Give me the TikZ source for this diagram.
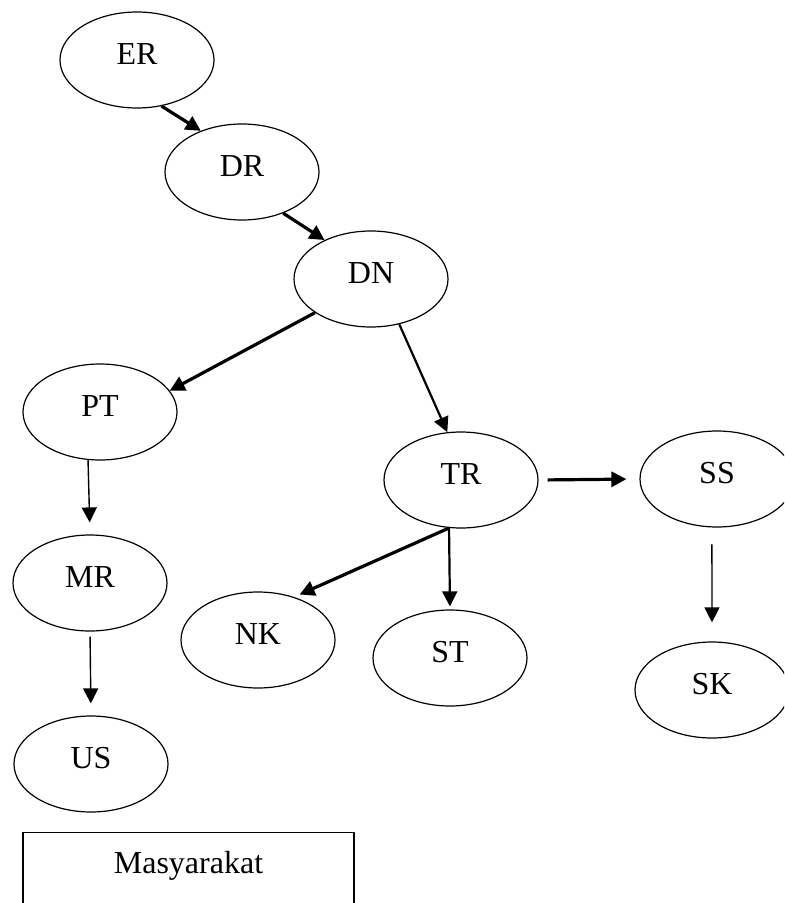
\documentclass[tikz,border=0pt]{standalone}
\usepackage{fontspec}
\setmainfont{Liberation Serif}
\usepackage{tikz}
\usetikzlibrary{arrows.meta, shapes.geometric}
\tikzset{every picture/.style={x=0.5pt,y=-0.5pt,every node/.style={ellipse,draw=black,line width=0.6pt,minimum width=77pt,minimum height=48pt,inner sep=0pt,text depth=6pt,font=\fontsize{16}{19}\selectfont}}}
\tikzset{kotak/.style={rectangle,minimum width=165.5pt,minimum height=0pt,text height=20.5pt,text depth=34.5pt,anchor=north}}

\begin{document}
\begin{tikzpicture}
    \useasboundingbox (0,0) rectangle (784,903);
    \clip (0,0) rectangle (784,903);

    \node (er) at (137, 60) {ER};
    \node (dr) at (242, 172) {DR};
    \node (dn) at (371, 279) {DN};

    \node (pt) at (100, 412) {PT};
    \node (mr) at (90, 583) {MR};
    \node (us) at (91, 764) {US};

    \node (tr) at (461, 480) {TR};
    \node (nk) at (258, 640) {NK};
    \node (st) at (450, 658) {ST};

    \node (ss) at (717, 479) {SS};
    \node (sk) at (712, 690) {SK};

    \node[kotak] (masy) at (188.5, 832) {Masyarakat};

    \foreach \from/\to/\lw/\sa/\sb in {
      er.-62/dr.135/1.6/0/0, dr.-45/dn.140/1.6/0/0,
      dn.-149/pt.17/1.6/0/0, dn.-58/tr.106/1.1/0/0,
      tr.-104/nk.50/1.6/0/3, tr.east/ss.west/1.6/4.5/6.5,
      tr.-104/st.north/1.1/0/1.5,
      pt.-104/mr.north/0.7/0/6, mr.south/us.north/0.7/2.5/6,
      ss.-96/sk.north/0.7/8.5/9.5}
      \draw[line width=\lw pt, shorten <=\sa pt, shorten >=\sb pt,
        -{Triangle[length=7.5pt,width=7.5pt]}] (\from) -- (\to);
\end{tikzpicture}
\end{document}
